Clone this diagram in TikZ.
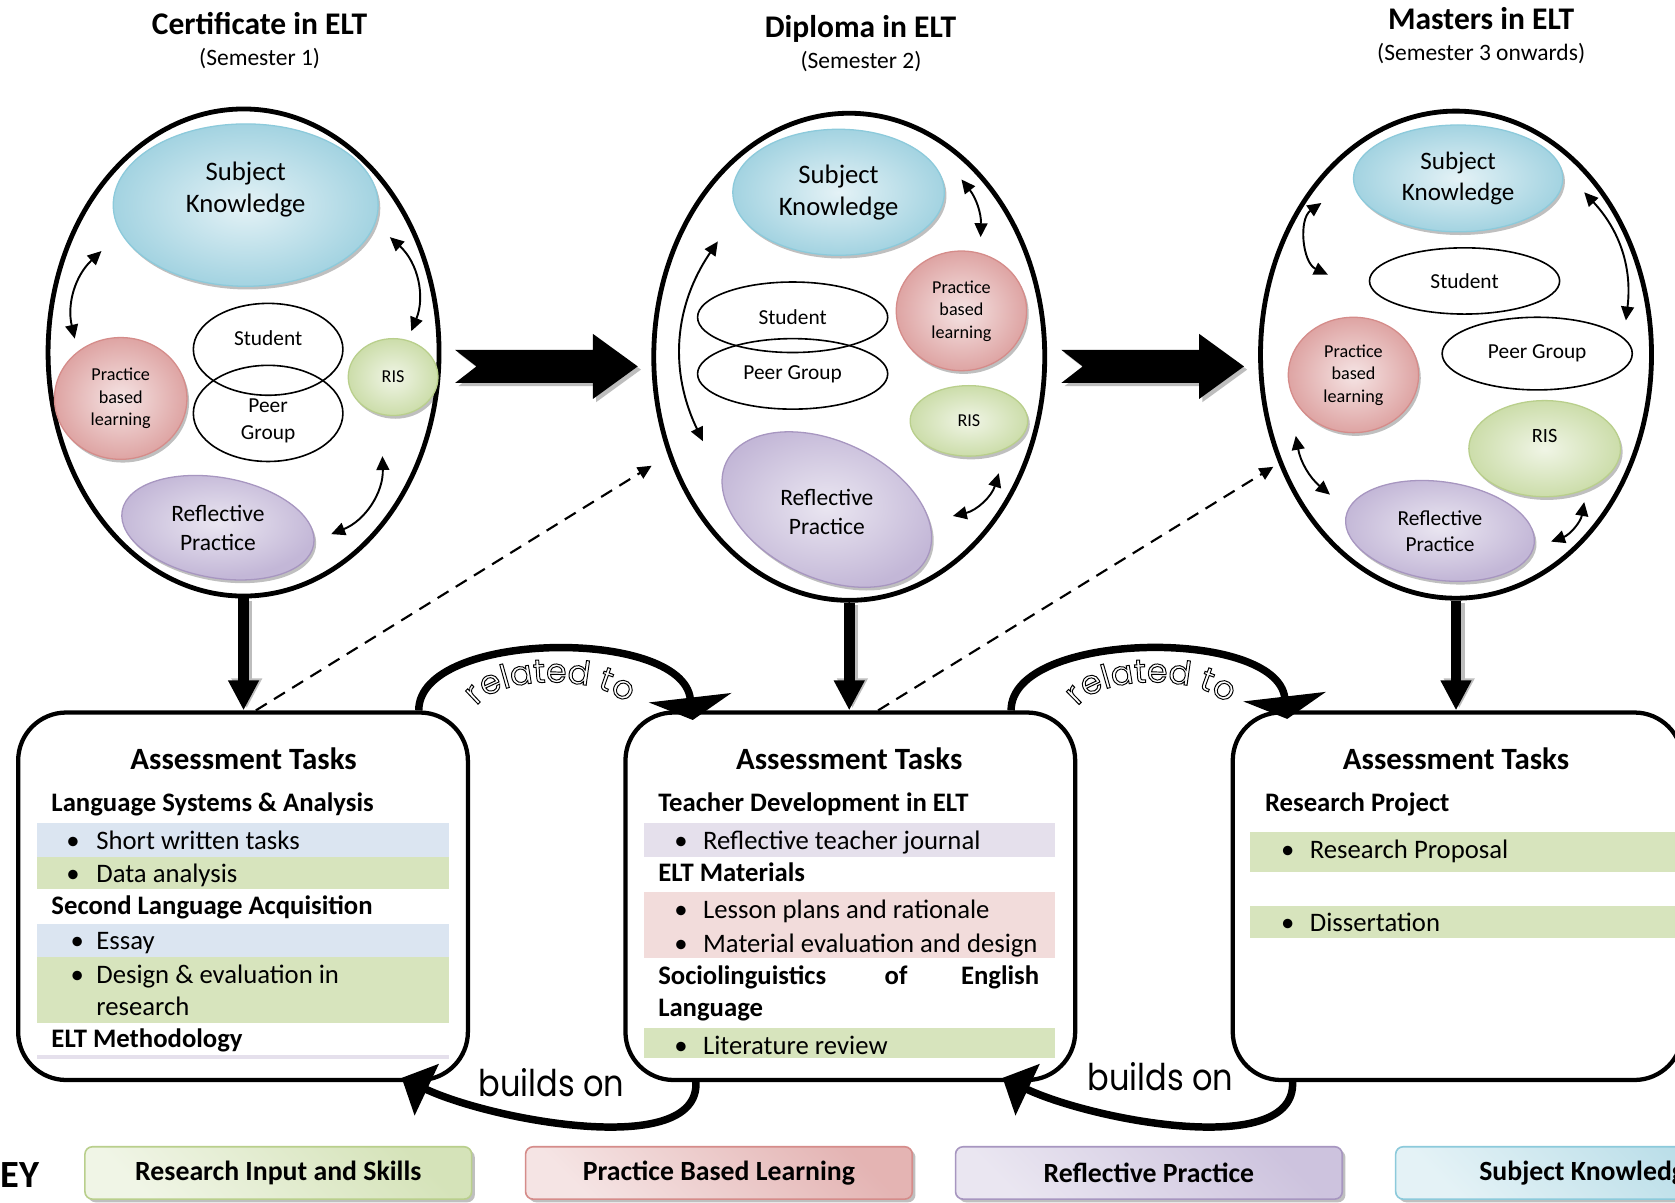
\documentclass[tikz,border=0pt]{standalone}
\usepackage{fontspec}
\setmainfont{Carlito}
\newfontfamily\gothic{Poppins}
\usetikzlibrary{calc,shadows,arrows.meta,decorations.text,shapes.geometric}

\definecolor{skdark}{HTML}{A3D3E1}
\definecolor{sklight}{HTML}{E4F2F6}
\definecolor{skline}{HTML}{8CCADB}
\definecolor{pbdark}{HTML}{DEA4A3}
\definecolor{pblight}{HTML}{F5E4E4}
\definecolor{pbline}{HTML}{D58C8A}
\definecolor{risdark}{HTML}{CCDDAA}
\definecolor{rislight}{HTML}{F0F5E6}
\definecolor{risline}{HTML}{B9CF8C}
\definecolor{rpdark}{HTML}{C3B7D7}
\definecolor{rplight}{HTML}{EAE6F1}
\definecolor{rpline}{HTML}{A796C0}
\definecolor{bandblue}{HTML}{DBE5F1}
\definecolor{bandgreen}{HTML}{D7E4BD}
\definecolor{bandpurple}{HTML}{E5E0EC}
\definecolor{bandpink}{HTML}{F2DCDB}
\definecolor{shadowgray}{HTML}{BDBDBD}

\newcommand\fsz[2]{\fontsize{#1}{#2}\selectfont}
\newcommand\outlinetext{\special{pdf:literal direct 1 Tr 0.9 w}}

\tikzset{
  programme/.style={ellipse, draw, line width=4.5pt, minimum width=366pt, minimum height=456pt, inner sep=0pt},
  bubble/.style={ellipse, draw=#1line, line width=1.2pt, inner color=#1light, outer color=#1dark,
    align=center, inner sep=0pt,
    drop shadow={shadow xshift=2pt, shadow yshift=-3pt, fill=black, opacity=0.25}},
  plainell/.style={ellipse, draw, line width=1.5pt, inner sep=0pt, align=center},
  lbl/.style={align=center, inner sep=0pt},
  twoway/.style={{Triangle[length=13pt,width=12pt]}-{Triangle[length=13pt,width=12pt]}, line width=1.8pt},
  ttl/.style={font=\bfseries\fsz{29.5}{34}, anchor=base, inner sep=0pt},
  stl/.style={font=\fsz{22}{26}, anchor=base, inner sep=0pt},
  taskbox/.style={rectangle, rounded corners=45pt, draw, line width=4pt, fill=white,
    minimum width=421pt, minimum height=344pt},
  head/.style={font=\bfseries\fsz{29}{34}, anchor=base, inner sep=0pt},
  sub/.style={font=\bfseries\fsz{25}{30}, anchor=base west, inner sep=0pt},
  item/.style={font=\fsz{25}{30}, anchor=base west, inner sep=0pt},
  downarrow/.style={line width=10pt, -{Triangle[width=27pt,length=28pt]}},
  dasharrow/.style={dash pattern=on 12pt off 8pt, line width=2pt, -{Triangle[length=13pt,width=12pt]}},
  loopline/.style={line width=7pt},
  curvedtext/.style={decorate, decoration={text along path, text align=center,
    text={|\gothic\fsz{31}{31}\outlinetext|#1}}},
  flattext/.style={font=\gothic\fsz{30}{30}, anchor=base, inner sep=0pt},
  keybox/.style={rectangle, rounded corners=7pt, draw=#1line, line width=1.5pt,
    left color=#1light, right color=#1dark!75!#1light, shading angle=135,
    minimum width=362pt, minimum height=49pt, font=\bfseries\fsz{26}{30},
    drop shadow={shadow xshift=3pt, shadow yshift=-3pt, fill=black, opacity=0.25}},
  blockarrow/.pic={
    \fill[shadowgray, shift={(3,-3)}] (-85.5,15.5) -- (43.5,15.5) -- (43.5,30.5) -- (85.5,0)
      -- (43.5,-30.5) -- (43.5,-15.5) -- (-85.5,-15.5) -- (-65.5,0) -- cycle;
    \fill[black] (-85.5,15.5) -- (43.5,15.5) -- (43.5,30.5) -- (85.5,0)
      -- (43.5,-30.5) -- (43.5,-15.5) -- (-85.5,-15.5) -- (-65.5,0) -- cycle;
  }
}

\begin{document}
\begin{tikzpicture}[x=1pt,y=1pt]
\useasboundingbox (0,0) rectangle (1568,-1126);
\fill[white] (0,0) rectangle (1568,-1126);
\clip (0,0) rectangle (1568,-1126);

% ---------- titles ----------
\node[ttl] (t1) at (243,-32.5) {Certificate in ELT};
\node[stl] (s1) at (243,-61) {(Semester 1)};
\node[ttl] (t2) at (805.5,-35) {Diploma in ELT};
\node[stl] (s2) at (806,-64) {(Semester 2)};
\node[ttl] (t3) at (1386.5,-28) {Masters in ELT};
\node[stl] (s3) at (1386.5,-57) {(Semester 3 onwards)};

% ---------- Certificate ----------
\node[programme] (e1) at (228,-330) {};
\node[bubble=sk, minimum width=248pt, minimum height=152pt] (sk1) at (230,-192) {};
\node[lbl, font=\fsz{25}{30}] (sk1t) at ($(sk1)+(0,15)$) {Subject\\Knowledge};
\node[bubble=pb, minimum width=124pt, minimum height=114pt, font=\fsz{17}{21}] (pb1) at (113,-373) {Practice\\based\\learning};
\node[plainell, minimum width=140pt, minimum height=86pt] (st1) at (251,-327) {};
\node[lbl, font=\fsz{20}{24}] (st1t) at ($(st1)+(0,10)$) {Student};
\node[plainell, minimum width=140pt, minimum height=90pt] (pg1) at (251,-387) {};
\node[lbl, font=\fsz{20}{25}] (pg1t) at ($(pg1)+(0,-7)$) {Peer\\Group};
\node[bubble=ris, minimum width=84pt, minimum height=72pt, font=\fsz{17}{20}] (ri1) at (368,-353) {RIS};
\node[bubble=rp, minimum width=182pt, minimum height=94pt, rotate=-10] (rp1) at (204,-494) {};
\node[lbl, font=\fsz{22}{27}] (rp1t) at (rp1) {Reflective\\Practice};

\draw[twoway] ($(sk1)+(-135,-43)$) to[bend right=30] ($(pb1)+(-43,56)$);
\draw[twoway] ($(sk1)+(135,-30)$) to[bend left=35] ($(ri1)+(17,43)$);
\draw[twoway] ($(ri1)+(-10,-74)$) to[bend left=35] ($(rp1)+(106,-6)$);

% ---------- Diploma ----------
\node[programme] (e2) at (795,-334) {};
\node[bubble=sk, minimum width=198pt, minimum height=118pt, font=\fsz{25}{30}] (sk2) at (785,-180) {Subject\\Knowledge};
\node[plainell, minimum width=178pt, minimum height=66pt, font=\fsz{20}{24}] (st2) at (742,-297) {Student};
\node[plainell, minimum width=178pt, minimum height=66pt, font=\fsz{20}{24}] (pg2) at (742,-350) {Peer Group};
\node[bubble=pb, minimum width=122pt, minimum height=112pt, font=\fsz{17}{21}] (pb2) at (900,-291) {Practice\\based\\learning};
\node[bubble=ris, minimum width=110pt, minimum height=66pt, font=\fsz{17}{20}] (ri2) at (907,-394) {RIS};
\node[bubble=rp, minimum width=208pt, minimum height=128pt, rotate=-25] (rp2) at (774,-477) {};
\node[lbl, font=\fsz{22}{27}] (rp2t) at (774,-479) {Reflective\\Practice};

\draw[twoway] ($(sk2)+(-113,-46)$) to[bend right=30] ($(rp2)+(-116,64)$);
\draw[twoway] ($(sk2)+(115,12)$) to[bend left=20] ($(pb2)+(18,69)$);
\draw[twoway] ($(ri2)+(28,-49)$) to[bend left=30] ($(rp2)+(118,-6)$);

% ---------- Masters ----------
\node[programme] (e3) at (1363,-332) {};
\node[bubble=sk, minimum width=196pt, minimum height=100pt, font=\fsz{23.5}{29}] (sk3) at (1365,-167) {Subject\\Knowledge};
\node[plainell, minimum width=178pt, minimum height=62pt, font=\fsz{20}{24}] (st3) at (1371,-263) {Student};
\node[plainell, minimum width=178pt, minimum height=68pt, font=\fsz{20}{24}] (pg3) at (1439,-331) {Peer Group};
\node[bubble=pb, minimum width=122pt, minimum height=108pt, font=\fsz{17}{21}] (pb3) at (1267,-351) {Practice\\based\\learning};
\node[bubble=ris, minimum width=142pt, minimum height=90pt] (ri3) at (1446,-420) {};
\node[lbl, font=\fsz{19}{22}] (ri3t) at ($(ri3)+(0,12)$) {RIS};
\node[bubble=rp, minimum width=178pt, minimum height=92pt, rotate=-8] (rp3) at (1348,-497) {};
\node[lbl, font=\fsz{20}{24}] (rp3t) at (rp3) {Reflective\\Practice};

\draw[twoway] ($(sk3)+(-128,-23)$) to[bend right=60] ($(st3)+(-128,6)$);
\draw[twoway] ($(sk3)+(118,-13)$) to[bend left=25] ($(pg3)+(83,31)$);
\draw[twoway] ($(pb3)+(-54,-57)$) to[bend right=20] ($(rp3)+(-103,34)$);
\draw[twoway] ($(ri3)+(37,-50)$) to[bend left=30] ($(rp3)+(104,-10)$);

% ---------- progression arrows ----------
\pic at ($(e1.east)!0.5!(e2.west)+(0,-11)$) {blockarrow};
\pic at ($(e2.east)!0.5!(e3.west)+(0,-10)$) {blockarrow};

% ---------- assessment boxes ----------
\node[taskbox] (b1) at (227.5,-839) {};
\node[taskbox] (b2) at (796,-839) {};
\node[taskbox] (b3) at (1364.5,-839) {};

% box 1
\fill[bandblue] (35,-770) rectangle (420,-802);
\fill[bandgreen] (35,-802) rectangle (420,-832);
\fill[bandblue] (35,-865) rectangle (420,-896);
\fill[bandgreen] (35,-896) rectangle (420,-958);
\fill[bandpurple] (35,-988) rectangle (420,-991);
\node[head] (h1) at (228,-720) {Assessment Tasks};
\node[sub] (c1a) at (48,-760) {Language Systems \& Analysis};
\node[item] (c1b) at (62,-795) {\textbullet};
\node[item] (c1c) at (90,-795) {Short written tasks};
\node[item] (c1d) at (62,-826) {\textbullet};
\node[item] (c1e) at (90,-826) {Data analysis};
\node[sub] (c1f) at (48,-856) {Second Language Acquisition};
\node[item] (c1g) at (66,-889) {\textbullet};
\node[item] (c1h) at (90,-889) {Essay};
\node[item] (c1i) at (66,-921) {\textbullet};
\node[item] (c1j) at (90,-921) {Design \& evaluation in};
\node[item] (c1k) at (90,-951) {research};
\node[sub] (c1l) at (48,-981) {ELT Methodology};

% box 2
\fill[bandpurple] (603,-770) rectangle (988,-802);
\fill[bandpink] (603,-835) rectangle (988,-897);
\fill[bandgreen] (603,-962) rectangle (988,-990);
\node[head] (h2) at (795,-720) {Assessment Tasks};
\node[sub] (c2a) at (616,-760) {Teacher Development in ELT};
\node[item] (c2b) at (631,-795) {\textbullet};
\node[item] (c2c) at (658,-795) {Reflective teacher journal};
\node[sub] (c2d) at (616,-825) {ELT Materials};
\node[item] (c2e) at (631,-860) {\textbullet};
\node[item] (c2f) at (658,-860) {Lesson plans and rationale};
\node[item] (c2g) at (631,-892) {\textbullet};
\node[item] (c2h) at (658,-892) {Material evaluation and design};
\node[sub] (c2i) at (616,-922) {Sociolinguistics};
\node[sub] (c2j) at (828,-922) {of};
\node[sub, anchor=base east] (c2k) at (973,-922) {English};
\node[sub] (c2l) at (616,-952) {Language};
\node[item] (c2m) at (631,-987) {\textbullet};
\node[item] (c2n) at (658,-987) {Literature review};

% box 3
\fill[bandgreen] (1170,-779) rectangle (1580,-816);
\fill[bandgreen] (1170,-848) rectangle (1580,-878);
\node[head] (h3) at (1363,-720) {Assessment Tasks};
\node[sub] (c3a) at (1184,-760) {Research Project};
\node[item] (c3b) at (1199,-804) {\textbullet};
\node[item] (c3c) at (1226,-804) {Research Proposal};
\node[item] (c3d) at (1199,-872) {\textbullet};
\node[item] (c3e) at (1226,-872) {Dissertation};

% ---------- programme to assessment ----------
\draw[downarrow, shadowgray] ($(e1.south)+(3,-2)$) -- ($(e1.south |- b1.north)+(3,2)$);
\draw[downarrow] (e1.south) -- (e1.south |- b1.north);
\draw[downarrow, shadowgray] ($(e2.south)+(3,-2)$) -- ($(e2.south |- b2.north)+(3,2)$);
\draw[downarrow] (e2.south) -- (e2.south |- b2.north);
\draw[downarrow, shadowgray] ($(e3.south)+(3,-2)$) -- ($(e3.south |- b3.north)+(3,2)$);
\draw[downarrow] (e3.south) -- (e3.south |- b3.north);

\draw[dasharrow] ($(b1.north)+(12,0)$) -- ($(e2.center)+(-185,-102)$);
\draw[dasharrow] ($(b2.north)+(26,0)$) -- ($(e3.center)+(-171,-105)$);

% ---------- related to / builds on ----------
\draw[loopline, -{Triangle[width=77pt,length=21pt]}] ($(b1.north east)+(-48,0)$)
  .. controls +(0,75) and +(-10,87) .. ($(b2.north west)+(65,-9)$);
\path[curvedtext={related to}] ($(b1.north east)+(5,2)$)
  .. controls +(18,32) and +(-20,30) .. ($(b2.north west)+(3.5,4)$);
\draw[loopline, -{Triangle[width=52pt,length=26pt]}] ($(b2.south west)+(68,0)$)
  .. controls +(3,-72) and +(85,-40) .. ($(b1.south east)+(-64,4)$);
\node[flattext] (bo1) at ($(b1.south east)!0.5!(b2.south west)+(4.5,-13)$) {\scalebox{1}[1.15]{builds on}};

\draw[loopline, -{Triangle[width=77pt,length=21pt]}] ($(b2.north east)+(-62,0)$)
  .. controls +(0,75) and +(-10,86) .. ($(b3.north west)+(53,-8)$);
\path[curvedtext={related to}] ($(b2.north east)+(-0.5,2)$)
  .. controls +(18,32) and +(-20,30) .. ($(b3.north west)+(-3,4)$);
\draw[loopline, -{Triangle[width=52pt,length=26pt]}] ($(b3.south west)+(58,0)$)
  .. controls +(3,-72) and +(85,-40) .. ($(b2.south east)+(-70,4)$);
\node[flattext] (bo2) at ($(b2.south east)!0.5!(b3.south west)+(6,-8)$) {\scalebox{1}[1.15]{builds on}};

% ---------- key ----------
\node[font=\bfseries\fsz{36}{36}, anchor=base east, inner sep=0pt] (key) at (37,-1112) {KEY};
\node[keybox=ris] (k1) at (260.5,-1098) {Research Input and Skills};
\node[keybox=pb] (k2) at (673,-1098) {Practice Based Learning};
\node[keybox=rp] (k3) at (1075.5,-1098) {Reflective Practice};
\node[keybox=sk] (k4) at (1487.5,-1098) {Subject Knowledge};
\end{tikzpicture}
\end{document}
